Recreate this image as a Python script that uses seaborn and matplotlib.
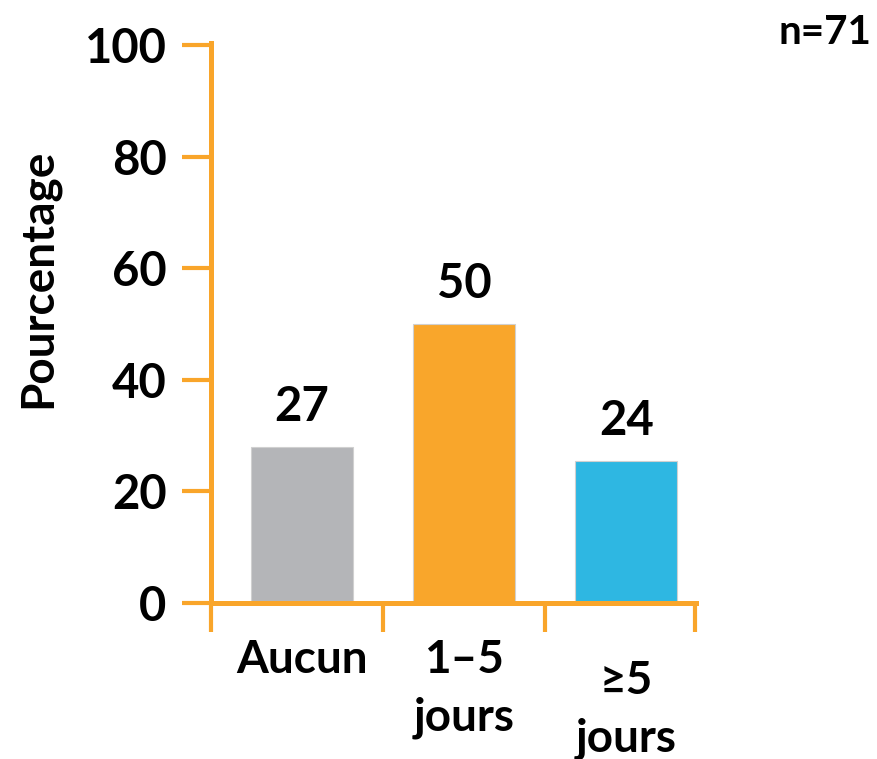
import matplotlib
matplotlib.use("Agg")
import matplotlib.pyplot as plt
import matplotlib.transforms as mtransforms
import seaborn as sns

# donnees ---------------------------------------------------------------------------------------
categories = ["Aucun", "1–5\njours", "≥5\njours"]
bar_heights = [28, 50, 25.5]          # hauteur des barres
value_labels = ["27", "50", "24"]     # pourcentages affiches au-dessus
bar_colors = ["#B4B5B8", "#F9A62B", "#2EB7E2"]
n_text = "n=71"

axis_color = "#F9A52A"

sns.set_style("white")
plt.rcParams["font.family"] = ["Lato", "DejaVu Sans"]
plt.rcParams["font.weight"] = "bold"
plt.rcParams["text.color"] = "black"
plt.rcParams["axes.labelcolor"] = "black"

fig = plt.figure(figsize=(8.78, 7.59), dpi=100)
ax = fig.add_axes([0.2403, 0.2055, 0.5524, 0.7378])

sns.barplot(x=categories, y=bar_heights, hue=categories, palette=bar_colors,
            legend=False, width=0.63, saturation=1, edgecolor="#D0D0D0",
            linewidth=0.8, ax=ax)

# valeurs au-dessus des barres
for patch, lab in zip(ax.patches, value_labels):
    ax.annotate(lab, (patch.get_x() + patch.get_width() / 2, patch.get_height()),
                xytext=(0, 29), textcoords="offset points", ha="center", va="center",
                fontsize=34, fontweight="bold", color="black")

# axes -----------------------------------------------------------------------------------------
ax.set_xlim(-0.562, 2.43)
ax.set_ylim(0, 100.4)
ax.set_yticks([0, 20, 40, 60, 80, 100])
ax.tick_params(axis="y", direction="out", length=21, width=3, color=axis_color,
               labelcolor="black", labelsize=34, pad=11, left=True)
for lab in ax.get_yticklabels():
    lab.set_fontweight("bold")

ax.set_xticks([-0.562, 0.5, 1.5, 2.426])
ax.set_xticklabels([])
ax.tick_params(axis="x", which="major", direction="out", length=21, width=3,
               color=axis_color, bottom=True)
ax.set_xticks([0, 1, 2], minor=True)
ax.set_xticklabels(categories, minor=True, fontsize=33, fontweight="bold",
                   linespacing=1.45, color="black")
ax.tick_params(axis="x", which="minor", length=0, pad=26)
# le troisieme libelle est un peu plus bas
third = ax.get_xticklabels(minor=True)[2]
third.set_transform(third.get_transform() +
                    mtransforms.ScaledTranslation(0, -15 / 72, fig.dpi_scale_trans))

for side in ["top", "right"]:
    ax.spines[side].set_visible(False)
for side in ["left", "bottom"]:
    ax.spines[side].set_color(axis_color)
    ax.spines[side].set_linewidth(3.6)

ax.set_xlabel("")
ax.set_ylabel("Pourcentage", fontsize=33, fontweight="bold", color="black")
ax.yaxis.label.set_va("center")
ax.yaxis.set_label_coords(-0.357, 0.579)

fig.text(0.993, 1 - 33 / 759, n_text, ha="right", va="center",
         fontsize=29, fontweight="bold", color="black")

fig.savefig("out.png", dpi=100)
